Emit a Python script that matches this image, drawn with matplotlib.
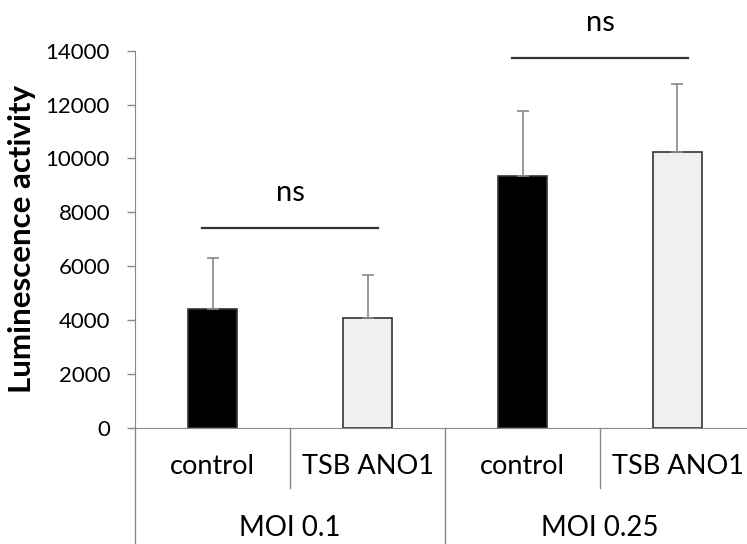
import numpy as np
import matplotlib
matplotlib.use('Agg')
import matplotlib.pyplot as plt

#-- data
groups = ['MOI 0.1', 'MOI 0.25']
conditions = ['control', 'TSB ANO1', 'control', 'TSB ANO1']
means = [4400, 4060, 9360, 10240]
errs = [1890, 1610, 2410, 2510]
sig_labels = ['ns', 'ns']
sig_heights = [7430, 13730]
yticks = [0, 2000, 4000, 6000, 8000, 10000, 12000, 14000]

plt.rcParams['font.family'] = ['Lato', 'DejaVu Sans']

fig = plt.figure(figsize=(7.47, 5.44), dpi=100)
ax = fig.add_axes([135 / 747, 116.3 / 544, 620 / 747, 377 / 544])

x = np.arange(len(means))
colors = ['black', '#f0f0f0', 'black', '#f0f0f0']
ax.bar(x, means, width=0.31, color=colors, edgecolor='#333333', linewidth=1.2,
       yerr=[np.zeros(len(errs)), errs],
       error_kw=dict(ecolor='#888888', elinewidth=1.2, capsize=4, capthick=1.2))

ax.set_xlim(-0.5, 3.5)
ax.set_ylim(0, 14000)
ax.set_yticks(yticks)
ax.set_yticklabels([str(v) for v in yticks], fontsize=16)
ax.set_xticks([])
ax.tick_params(axis='y', length=6, color='#888888', width=1, pad=12)
for s in ['top', 'right']:
    ax.spines[s].set_visible(False)
for s in ['left', 'bottom']:
    ax.spines[s].set_color('#888888')
ax.set_ylabel('Luminescence activity', fontsize=22.5, fontweight='bold', labelpad=7)

#-- significance lines
for i, (lab, h) in enumerate(zip(sig_labels, sig_heights)):
    x0, x1 = 2 * i - 0.07, 2 * i + 1 + 0.07
    ax.plot([x0, x1], [h, h], color='#333333', lw=1.6, clip_on=False)
    ax.text((x0 + x1) / 2, h + 800, lab, ha='center', va='bottom', fontsize=21, clip_on=False)

#-- two-level category axis
tr = ax.get_xaxis_transform()
for xs in [-0.5, 1.5, 3.5]:
    ax.plot([xs, xs], [0, -0.32], color='#888888', lw=1, transform=tr, clip_on=False)
for xs in [0.5, 2.5]:
    ax.plot([xs, xs], [0, -0.16], color='#888888', lw=1, transform=tr, clip_on=False)
for xi, c in zip(x, conditions):
    ax.text(xi, -0.103, c, transform=tr, ha='center', va='center', fontsize=19.5)
for i, g in enumerate(groups):
    ax.text(2 * i + 0.5, -0.265, g, transform=tr, ha='center', va='center', fontsize=20)

fig.savefig('out.png', dpi=100)
